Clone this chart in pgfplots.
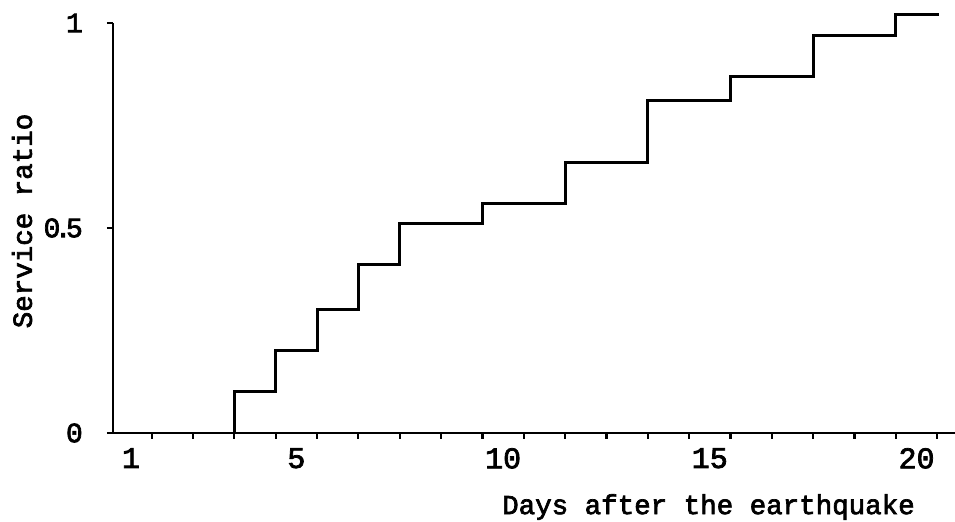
\documentclass[border=0pt]{standalone}
\usepackage{fontspec}
\setmainfont{Liberation Mono}[FakeBold=2.5]
\usepackage{pgfplots}
\pgfplotsset{compat=1.18}
\begin{document}
\begin{tikzpicture}
\path[use as bounding box] (-113bp,-89bp) rectangle (842bp,433bp);
\begin{axis}[
  scale only axis,
  width=842bp, height=410bp,
  xmin=0.565, xmax=20.93,
  ymin=0, ymax=1,
  axis lines=left,
  axis line style={-, line width=2.4bp},
  clip=false,
  /pgf/number format/assume math mode=true,
  tick align=outside,
  xtick={1.5,2.5,...,20.5},
  xticklabels={},
  major tick length=6bp,
  tick style={line width=2.2bp, black},
  extra x ticks={1,5,10,15,20},
  extra x tick labels={1,5,10,15,20},
  extra x tick style={major tick length=0pt, xticklabel style={anchor=north, inner sep=0pt, yshift=-15bp}},
  ytick={0,0.5,1},
  yticklabels={0,{0\kern-0.2em.\kern-0.2em5},1},
  yticklabel style={anchor=east, inner sep=0pt, xshift=-24bp, font=\fontsize{28bp}{28bp}\selectfont},
  xticklabel style={font=\fontsize{30bp}{30bp}\selectfont},
]
\addplot[const plot, black, line width=3bp] coordinates {
(3.5,0) (3.5,0.10) (4.5,0.20) (5.5,0.30) (6.5,0.41) (7.5,0.51)
(9.5,0.56) (11.5,0.66) (13.5,0.81) (15.5,0.87) (17.5,0.97) (19.5,1.02) (20.55,1.02)
};
\end{axis}
\node[rotate=90, font=\fontsize{27.5bp}{27.5bp}\selectfont] at (-91bp,212bp) {Service ratio};
\node[font=\fontsize{27.5bp}{27.5bp}\selectfont] at (595.5bp,-74bp) {Days after the earthquake};
\end{tikzpicture}
\end{document}
